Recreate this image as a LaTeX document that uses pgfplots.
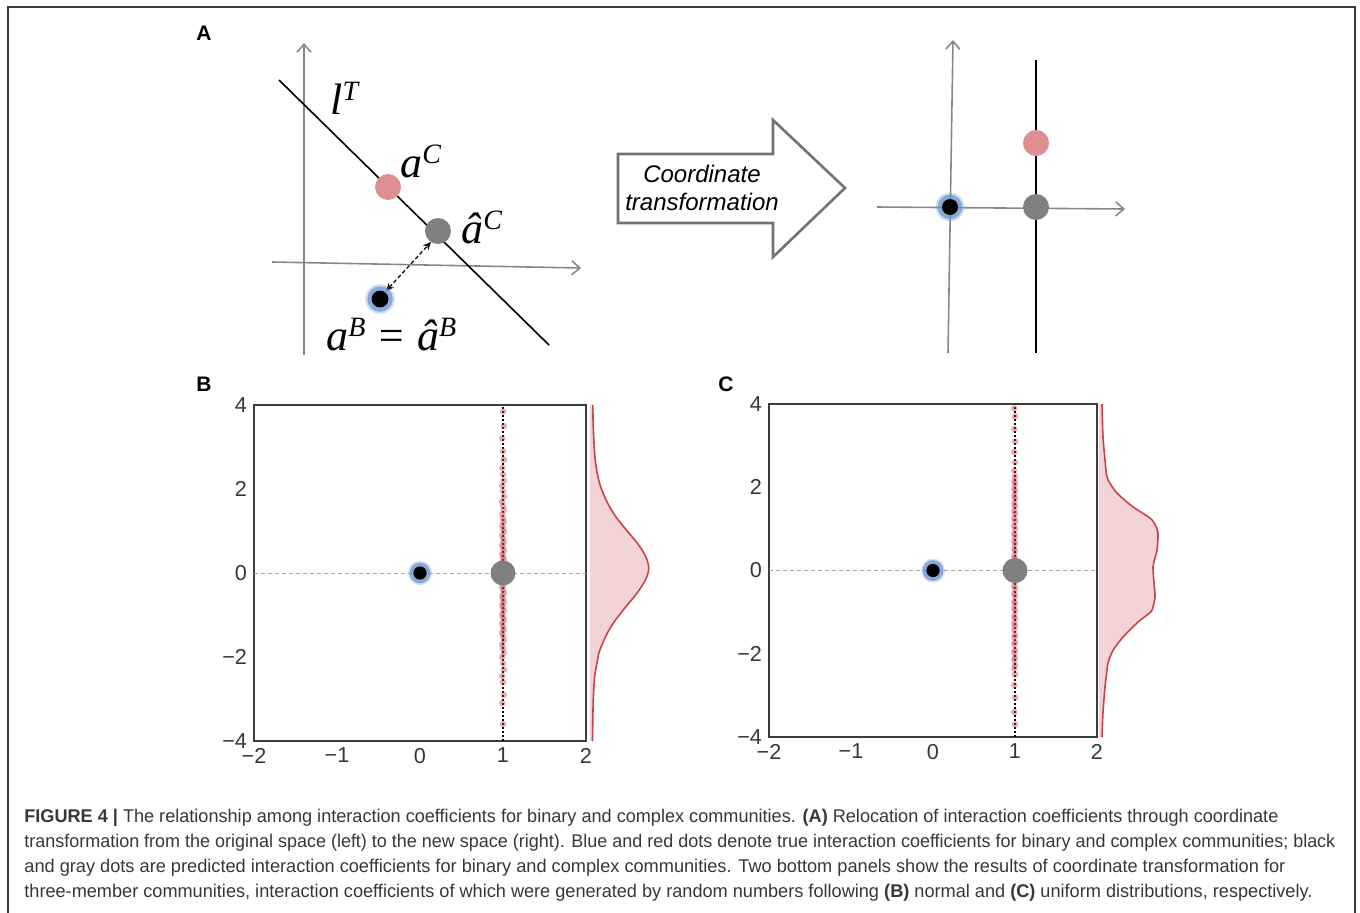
\documentclass[border=0pt]{standalone}
\usepackage{graphicx}
\usepackage{pgfplots}
\pgfplotsset{compat=1.18}
\usetikzlibrary{arrows.meta}
\usepackage{fontspec}
\setmainfont{Liberation Sans}
\newfontfamily\tms{Liberation Serif}

\definecolor{pinkdot}{RGB}{221,143,145}
\definecolor{graydot}{RGB}{128,128,128}
\definecolor{halo}{RGB}{105,148,210}
\definecolor{kdered}{RGB}{200,68,75}
\definecolor{kdefill}{RGB}{243,211,214}
\definecolor{framec}{RGB}{60,60,60}
\definecolor{schem}{RGB}{135,135,135}
\definecolor{arrowgray}{RGB}{115,115,115}
\definecolor{txt}{RGB}{55,55,55}

% caption line stretched to a given width (pt)
\newlength\capw
\newcommand\capline[2]{\settowidth\capw{#2}\pgfmathsetmacro\sx{#1/\capw}\scalebox{\sx}[1]{#2}}
% math-like labels of panel A
\newcommand\mlab[1]{{\tms\itshape\fontsize{22}{22}\selectfont #1}}
\newcommand\sups[1]{\raisebox{7pt}{\fontsize{14}{14}\selectfont #1}}

\pgfplotsset{
  panel/.style={scale only axis, anchor=south west,
    xmin=-2, xmax=2, ymin=-4, ymax=4,
    xtick={-2,-1,0,1,2}, xticklabels={−2,−1,0,1,2},
    ytick={-4,-2,0,2,4}, yticklabels={−4,−2,0,2,4},
    axis line style={framec, line width=0.8pt},
    major tick length=0pt, tick style={draw=none},
    tick label style={font=\fontsize{10.8}{12}\selectfont, text=txt},
    clip=false},
  kde/.style={scale only axis, anchor=south west, hide axis,
    xmin=0, xmax=70, ymin=-4, ymax=4, clip=false},
  dot/.style 2 args={only marks, mark=*, mark size=#2, color=#1,
    mark options={fill=#1, draw opacity=0}},
  glow/.style 2 args={only marks, mark=*, mark size=#1, color=halo,
    mark options={fill=halo, fill opacity=#2, draw opacity=0}},
  redpts/.style={only marks, mark=*, mark size=1.6pt, color=kdered,
    mark options={fill=kdered, fill opacity=0.45, draw opacity=0}},
  zeroline/.style={gray!70, line width=0.4pt, dash pattern=on 2pt off 1.5pt},
  ltline/.style={black, line width=0.7pt, dash pattern=on 1pt off 1pt},
}

\begin{document}
\begin{tikzpicture}

% ---- overlay in pixel units: frame, panel A, letters, caption
\begin{axis}[at={(0pt,0pt)}, anchor=south west, scale only axis,
  width=680pt, height=456pt, xmin=0, xmax=1360, ymin=0, ymax=912,
  y dir=reverse, hide axis, clip=false]

\draw[framec, line width=0.75pt] (axis cs:8,930) -- (axis cs:8,7) -- (axis cs:1355,7) -- (axis cs:1355,930);

% left schematic
\addplot[schem, line width=0.8pt, -{Straight Barb[length=4pt,width=7pt]}] coordinates {(304,355) (304,43)};
\addplot[schem, line width=0.8pt, -{Straight Barb[length=4pt,width=7pt]}] coordinates {(272,262) (581,268)};
\addplot[black, line width=0.8pt] coordinates {(279,80) (549,345)};
\addplot[black, line width=0.6pt, dash pattern=on 2pt off 1.2pt,
  {Stealth[length=4pt,width=3.5pt]}-{Stealth[length=4pt,width=3.5pt]}] coordinates {(386,291) (431,242)};
\addplot[dot={pinkdot}{6.5pt}] coordinates {(388,187)};
\addplot[dot={graydot}{6.5pt}] coordinates {(438,231)};
\addplot[glow={7.4pt}{0.3}] coordinates {(380,299)};
\addplot[glow={6.4pt}{0.7}] coordinates {(380,299)};
\addplot[dot={black}{4.2pt}] coordinates {(380,299)};

\node[anchor=base west, inner sep=0] at (axis cs:330,114) {\mlab{l\sups{T}}};
\node[anchor=base west, inner sep=0] at (axis cs:400,177) {\mlab{a\sups{C}}};
\node[anchor=base west, inner sep=0] at (axis cs:461,243) {\mlab{â\sups{C}}};
\node[anchor=base west, inner sep=0] at (axis cs:326,350) {\mlab{a\sups{B} = â\sups{B}}};

% block arrow
\addplot[arrowgray, line width=1.3pt, fill=white, line join=miter] coordinates
  {(618,154) (773,154) (773,120) (845,188) (773,257) (773,223) (618,223)} -- cycle;
\node[font=\itshape\fontsize{12}{14}\selectfont, align=center] at (axis cs:702,188) {Coordinate\\transformation};

% right schematic
\addplot[schem, line width=0.8pt, -{Straight Barb[length=4pt,width=7pt]}] coordinates {(948,353) (953,40)};
\addplot[schem, line width=0.8pt, -{Straight Barb[length=4pt,width=7pt]}] coordinates {(877,207) (1125,209)};
\addplot[black, line width=0.9pt] coordinates {(1036,60) (1036,353)};
\addplot[dot={pinkdot}{6.5pt}] coordinates {(1036,143)};
\addplot[dot={graydot}{6.5pt}] coordinates {(1036,207)};
\addplot[glow={7.2pt}{0.3}] coordinates {(950,207)};
\addplot[glow={6.2pt}{0.7}] coordinates {(950,207)};
\addplot[dot={black}{4pt}] coordinates {(950,207)};

% panel letters
\node[font=\bfseries\fontsize{10.5}{12}\selectfont] at (axis cs:204,33) {A};
\node[font=\bfseries\fontsize{10.5}{12}\selectfont] at (axis cs:204,384) {B};
\node[font=\bfseries\fontsize{10.5}{12}\selectfont] at (axis cs:726,384) {C};

% caption
\begin{scope}[every node/.style={anchor=base west, inner sep=0, text=txt, font=\fontsize{9.2}{10}\selectfont}]
\node at (axis cs:24,822) {\capline{627}{\textbf{FIGURE 4 |} The relationship among interaction coefficients for binary and complex communities. \textbf{(A)} Relocation of interaction coefficients through coordinate}};
\node at (axis cs:24,847) {\capline{655.5}{transformation from the original space (left) to the new space (right). Blue and red dots denote true interaction coefficients for binary and complex communities; black}};
\node at (axis cs:24,872) {\capline{630.5}{and gray dots are predicted interaction coefficients for binary and complex communities. Two bottom panels show the results of coordinate transformation for}};
\node at (axis cs:24,897) {\capline{644}{three-member communities, interaction coefficients of which were generated by random numbers following \textbf{(B)} normal and \textbf{(C)} uniform distributions, respectively.}};
\end{scope}
\end{axis}

% ---- panel B
\begin{axis}[panel, at={(127pt,85.5pt)}, width=166pt, height=168pt]
\addplot[zeroline] coordinates {(-2,0) (2,0)};
\addplot[redpts] coordinates {
(1.00,-3.60) (0.99,-3.10) (1.01,-2.90) (1.00,-2.60) (0.99,-2.45) (1.01,-2.30)
(1.00,-2.15) (0.99,-2.00) (1.01,-1.90) (1.00,-1.80) (0.99,-1.70) (1.01,-1.60)
(1.00,-1.50) (0.99,-1.42) (1.01,-1.35) (1.00,-1.28) (0.99,-1.20) (1.01,-1.12)
(1.00,-1.05) (0.99,-0.98) (1.01,-0.90) (1.00,-0.83) (0.99,-0.76) (1.01,-0.70)
(1.00,-0.62) (0.99,-0.55) (1.01,-0.48) (1.00,-0.40) (0.99,-0.33) (1.01,-0.26)
(1.00,-0.20) (0.99,-0.13) (1.01,-0.07) (1.00,0.00) (0.99,0.06) (1.01,0.12)
(1.00,0.19) (0.99,0.25) (1.01,0.32) (1.00,0.38) (0.99,0.45) (1.01,0.52)
(1.00,0.60) (0.99,0.67) (1.01,0.74) (1.00,0.82) (0.99,0.90) (1.01,0.98)
(1.00,1.06) (0.99,1.14) (1.01,1.22) (1.00,1.30) (0.99,1.40) (1.01,1.50)
(1.00,1.60) (0.99,1.70) (1.01,1.82) (1.00,1.95) (0.99,2.08) (1.01,2.20)
(1.00,2.35) (0.99,2.50) (1.01,2.70) (1.00,2.90) (0.99,3.20) (1.01,3.50)
(1.00,3.85)};
\addplot[ltline] coordinates {(1,-4) (1,4)};
\addplot[dot={graydot}{6.25pt}] coordinates {(1,0)};
\addplot[glow={6pt}{0.3}] coordinates {(0,0)};
\addplot[glow={5.2pt}{0.7}] coordinates {(0,0)};
\addplot[dot={black}{3.3pt}] coordinates {(0,0)};
\end{axis}

\begin{axis}[kde, at={(295pt,85.5pt)}, width=35pt, height=168pt]
\addplot[draw=none, fill=kdefill, smooth] coordinates {
(2.5,-4.0) (2.8,-3.5) (3.3,-3.0) (4.5,-2.5) (6.5,-2.2) (9,-1.9) (13,-1.65) (18,-1.4)
(24,-1.17) (31,-0.95) (38,-0.74) (45,-0.54) (51,-0.34) (56,-0.14) (58.5,0.05) (58.5,0.18)
(56.5,0.35) (52,0.55) (46,0.75) (39,0.95) (32,1.15) (25,1.37) (19,1.6) (14,1.85)
(10,2.1) (7,2.4) (5,2.75) (4,3.1) (3.2,3.5) (2.8,4.0)} -- (axis cs:0,4) -- (axis cs:0,-4) -- cycle;
\addplot[kdered, line width=0.8pt, smooth] coordinates {
(2.5,-4.0) (2.8,-3.5) (3.3,-3.0) (4.5,-2.5) (6.5,-2.2) (9,-1.9) (13,-1.65) (18,-1.4)
(24,-1.17) (31,-0.95) (38,-0.74) (45,-0.54) (51,-0.34) (56,-0.14) (58.5,0.05) (58.5,0.18)
(56.5,0.35) (52,0.55) (46,0.75) (39,0.95) (32,1.15) (25,1.37) (19,1.6) (14,1.85)
(10,2.1) (7,2.4) (5,2.75) (4,3.1) (3.2,3.5) (2.8,4.0)};
\end{axis}

% ---- panel C
\begin{axis}[panel, at={(384.5pt,87.5pt)}, width=164pt, height=166.5pt]
\addplot[zeroline] coordinates {(-2,0) (2,0)};
\addplot[redpts] coordinates {
(1.00,-3.70) (0.99,-3.40) (1.00,-3.05) (0.99,-2.75) (1.00,-2.50) (0.99,-2.35)
(1.00,-2.27) (0.99,-2.15) (1.00,-2.08) (0.99,-1.97) (1.00,-1.91) (0.99,-1.78)
(1.00,-1.72) (0.99,-1.60) (1.00,-1.55) (0.99,-1.43) (1.00,-1.33) (0.99,-1.27)
(1.00,-1.16) (0.99,-1.10) (1.00,-0.98) (0.99,-0.91) (1.00,-0.80) (0.99,-0.74)
(1.00,-0.62) (0.99,-0.55) (1.00,-0.44) (0.99,-0.37) (1.00,-0.26) (0.99,-0.19)
(1.00,-0.08) (0.99,0.02) (1.00,0.10) (0.99,0.17) (1.00,0.28) (0.99,0.35)
(1.00,0.46) (0.99,0.53) (1.00,0.64) (0.99,0.71) (1.00,0.82) (0.99,0.89)
(1.00,1.00) (0.99,1.07) (1.00,1.18) (0.99,1.25) (1.00,1.36) (0.99,1.43)
(1.00,1.54) (0.99,1.61) (1.00,1.72) (0.99,1.79) (1.00,1.90) (0.99,1.97)
(1.00,2.08) (0.99,2.15) (1.00,2.26) (0.99,2.40) (1.00,2.60) (0.99,2.85)
(1.00,3.10) (0.99,3.40) (1.00,3.70) (0.99,3.90)};
\addplot[ltline] coordinates {(1,-4) (1,3.95)};
\addplot[dot={graydot}{6.25pt}] coordinates {(1,0)};
\addplot[glow={6pt}{0.3}] coordinates {(0,0)};
\addplot[glow={5.2pt}{0.7}] coordinates {(0,0)};
\addplot[dot={black}{3.3pt}] coordinates {(0,0)};
\end{axis}

\begin{axis}[kde, at={(549.5pt,87.5pt)}, width=35pt, height=166.5pt]
\addplot[draw=none, fill=kdefill, smooth] coordinates {
(3,-4.0) (4,-3.4) (6,-2.8) (7.5,-2.5) (9,-2.22) (14,-1.92) (24,-1.6) (38,-1.26)
(49,-1.05) (53,-0.95) (56,-0.64) (55,-0.3) (54,0.08) (56,0.3) (58,0.49) (59,0.9)
(56,1.1) (51,1.26) (34,1.53) (18,1.86) (9,2.18) (7,2.4) (6,2.66) (4,3.2) (3,4.0)}
-- (axis cs:0,4) -- (axis cs:0,-4) -- cycle;
\addplot[kdered, line width=0.8pt, smooth] coordinates {
(3,-4.0) (4,-3.4) (6,-2.8) (7.5,-2.5) (9,-2.22) (14,-1.92) (24,-1.6) (38,-1.26)
(49,-1.05) (53,-0.95) (56,-0.64) (55,-0.3) (54,0.08) (56,0.3) (58,0.49) (59,0.9)
(56,1.1) (51,1.26) (34,1.53) (18,1.86) (9,2.18) (7,2.4) (6,2.66) (4,3.2) (3,4.0)};
\end{axis}

\pgfresetboundingbox
\path[use as bounding box] (0pt,0pt) rectangle (680pt,456pt);
\end{tikzpicture}
\end{document}
